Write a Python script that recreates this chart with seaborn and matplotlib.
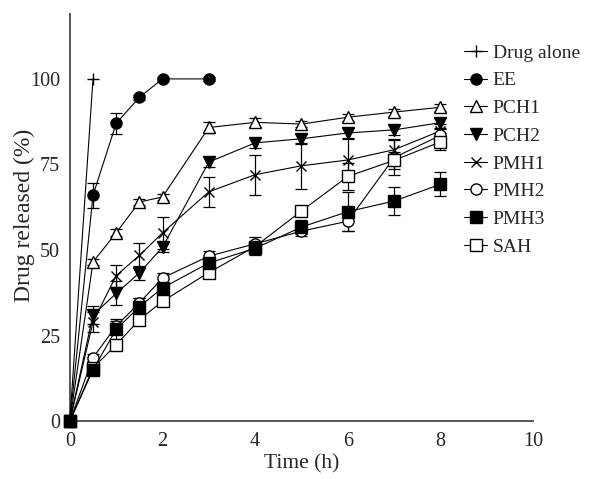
import numpy as np
import pandas as pd
import matplotlib
matplotlib.use("Agg")
import matplotlib.pyplot as plt
import seaborn as sns

# time points (h)
time_full = [0, 0.5, 1, 1.5, 2, 3, 4, 5, 6, 7, 8]
time_drug = [0, 0.5]
time_ee = [0, 0.5, 1, 1.5, 2, 3]

# mean release (%)
drug_alone = [0, 100]
ee = [0, 66, 87, 94.6, 100, 100]
pch1 = [0, 46.5, 55, 64, 65.5, 85.8, 87.3, 86.8, 88.8, 90.3, 91.7]
pch2 = [0, 31, 37.3, 43.3, 50.8, 75.7, 81.3, 82.5, 84.2, 85.1, 87.2]
pmh1 = [0, 29, 42.5, 48.4, 55, 67, 72, 74.6, 76.3, 79.3, 84.8]
pmh2 = [0, 18.5, 27.8, 34.5, 41.8, 48.2, 51.8, 55.5, 58.4, 77, 83.5]
pmh3 = [0, 15, 26.8, 33.4, 38.9, 46.2, 50.5, 56.7, 61.2, 64.3, 69.2]
sah = [0, 15.5, 22.3, 29.6, 35, 43.4, 51, 61.4, 71.5, 76.2, 81.6]

# error bars (SD)
ee_sd = [0, 3.7, 3, 0.8, 0.5, 0.5]
pch1_sd = [0, 1, 1, 1, 1, 1.5, 1.3, 1, 1, 1, 1]
pch2_sd = [0, 2.5, 3.5, 2, 1.5, 1.5, 1.5, 1.5, 1.5, 1.5, 1.5]
pmh1_sd = [0, 3, 3.2, 3.7, 4.6, 4.3, 5.9, 6.8, 6, 3, 2]
pmh2_sd = [0, 1, 1.5, 1.5, 1.5, 1.5, 2, 1.5, 3, 5, 2]
pmh3_sd = [0, 1, 3, 2.5, 1.5, 1.5, 2, 2, 5.8, 4, 3.5]
sah_sd = [0, 1, 1, 1, 1, 1, 1, 1.5, 4, 2.5, 2.5]

names = ["Drug alone", "EE", "PCH1", "PCH2", "PMH1", "PMH2", "PMH3", "SAH"]
times = [time_drug, time_ee] + [time_full] * 6
means = [drug_alone, ee, pch1, pch2, pmh1, pmh2, pmh3, sah]
sds = [None, ee_sd, pch1_sd, pch2_sd, pmh1_sd, pmh2_sd, pmh3_sd, sah_sd]
markers = ["+", "o", "^", "v", "x", "o", "s", "s"]
faces = ["black", "black", "white", "black", "black", "white", "black", "white"]
msizes = [8, 8, 8, 8, 7, 8, 8, 8]
layers = [3, 4, 5, 6, 7, 8, 10, 9]

sns.set_style("white")
plt.rcParams["font.family"] = ["Liberation Serif", "DejaVu Serif"]

fig = plt.figure(figsize=(5.97, 4.79), dpi=100)
ax = fig.add_axes([0.117, 0.121, 0.776, 0.850])

for name, t, m, sd, mk, fc, ms, z in zip(names, times, means, sds, markers,
                                         faces, msizes, layers):
    df = pd.DataFrame({"time": t, "release": m})
    if sd is not None:
        ax.errorbar(t, m, yerr=sd, fmt="none", ecolor="black",
                    elinewidth=0.9, capsize=4, capthick=0.9, zorder=2)
    sns.lineplot(data=df, x="time", y="release", ax=ax, color="black",
                 linewidth=0.8, marker=mk, markersize=ms,
                 markerfacecolor=fc, markeredgecolor="black",
                 markeredgewidth=1.0, label=name, clip_on=False, zorder=z)

ax.set_xlim(0, 10)
ax.set_ylim(0, 119)
ax.set_xticks([0, 2, 4, 6, 8, 10])
ax.set_yticks([0, 25, 50, 75, 100])
ax.set_xlabel("Time (h)", fontsize=15.5, labelpad=2)
ax.set_ylabel("Drug released (%)", fontsize=17)
ax.yaxis.set_label_coords(-0.075, 0.504)

for s in ["top", "right"]:
    ax.spines[s].set_visible(False)
for s in ["left", "bottom"]:
    ax.spines[s].set_color("#555555")
    ax.spines[s].set_linewidth(1.4)
ax.tick_params(axis="x", direction="in", length=5, width=1.2, color="#555555",
               labelsize=14.5, pad=8)
ax.tick_params(axis="y", direction="out", length=5, width=1.2, color="#555555",
               labelsize=14.5, pad=2)

ax.legend(loc="upper left", bbox_to_anchor=(0.835, 0.945), frameon=False,
          fontsize=14, handlelength=1.15, handletextpad=0.3, labelspacing=0.52,
          borderaxespad=0)

fig.savefig("out.png", dpi=100)
